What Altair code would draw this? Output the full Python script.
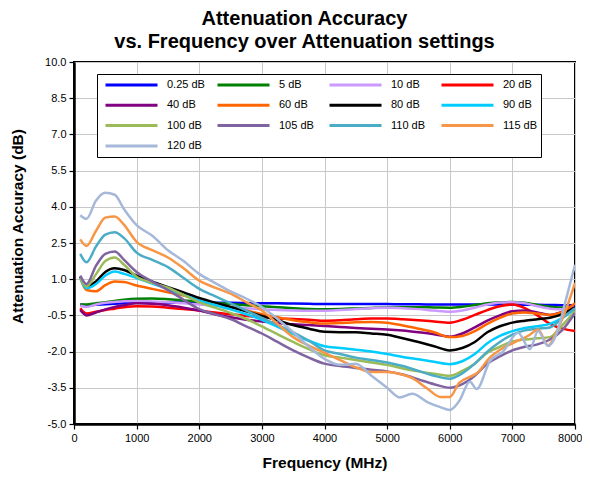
import altair as alt
import pandas as pd

SERIES = ["0.25 dB", "5 dB", "10 dB", "20 dB", "40 dB", "60 dB", "80 dB",
          "90 dB", "100 dB", "105 dB", "110 dB", "115 dB", "120 dB"]
COLORS = ["#0000ff", "#008000", "#cc99ff", "#ff0000", "#800080", "#ff6600",
          "#000000", "#00ccff", "#9bbb59", "#8064a2", "#4bacc6", "#f79646",
          "#a5b8d9"]

X_TICKS = [0, 1000, 2000, 3000, 4000, 5000, 6000, 7000, 8000]
Y_TICKS = [-5.0, -3.5, -2.0, -0.5, 1.0, 2.5, 4.0, 5.5, 7.0, 8.5, 10.0]

FREQ = [100, 200, 350, 500, 650, 800, 1000, 1250, 1500, 1750, 2000, 2250,
        2500, 2750, 3000, 3250, 3500, 3750, 4000, 4250, 4500, 4750, 5000,
        5250, 5500, 5750, 6000, 6200, 6400, 6600, 6800, 7000, 7200, 7400,
        7600, 7800, 8000]
FREQ_WAVY = [100, 200, 350, 500, 650, 800, 1000, 1250, 1500, 1750, 2000, 2250,
             2500, 2750, 3000, 3250, 3500, 3750, 4000, 4250, 4500, 4750, 5000,
             5200, 5400, 5650, 5850, 6000, 6150, 6320, 6430, 6640, 6850, 7090,
             7280, 7410, 7570, 7700, 7850, 8000]

ATT_0_25 = [-0.05, -0.08, -0.06, -0.04, -0.02, 0.0, 0.02, 0.03, 0.03, 0.03,
            0.03, 0.02, 0.02, 0.01, 0.0, 0.0, -0.01, -0.02, -0.03, -0.03,
            -0.03, -0.03, -0.03, -0.04, -0.04, -0.05, -0.05, -0.05, -0.05,
            -0.05, -0.05, -0.05, -0.06, -0.06, -0.07, -0.08, -0.08]
ATT_5 = [-0.05, -0.05, 0.0, 0.05, 0.1, 0.15, 0.19, 0.2, 0.17, 0.12, 0.07,
         0.02, -0.03, -0.08, -0.12, -0.16, -0.2, -0.23, -0.24, -0.23, -0.21,
         -0.19, -0.17, -0.16, -0.16, -0.17, -0.18, -0.14, -0.07, 0.0, 0.04,
         0.06, 0.02, -0.07, -0.14, -0.18, -0.2]
ATT_10 = [-0.1, -0.15, -0.05, 0.02, 0.06, 0.09, 0.1, 0.08, 0.05, 0.0, -0.05,
          -0.1, -0.15, -0.2, -0.25, -0.28, -0.3, -0.31, -0.31, -0.28, -0.24,
          -0.2, -0.18, -0.2, -0.24, -0.3, -0.35, -0.3, -0.18, -0.05, 0.03,
          0.05, 0.0, -0.12, -0.22, -0.25, -0.22]
ATT_20 = [-0.2, -0.42, -0.35, -0.28, -0.22, -0.16, -0.12, -0.13, -0.18, -0.24,
          -0.3, -0.38, -0.45, -0.52, -0.58, -0.63, -0.65, -0.68, -0.72, -0.7,
          -0.66, -0.63, -0.63, -0.66, -0.7, -0.75, -0.8, -0.68, -0.48, -0.28,
          -0.12, -0.05, -0.2, -0.5, -0.85, -1.05, -1.15]
ATT_40 = [-0.28, -0.5, -0.38, -0.25, -0.15, -0.08, 0.0, -0.02, -0.08, -0.18,
          -0.3, -0.45, -0.58, -0.68, -0.75, -0.82, -0.87, -0.9, -0.94, -0.98,
          -1.02, -1.05, -1.08, -1.13, -1.2, -1.28, -1.38, -1.25, -1.0, -0.72,
          -0.5, -0.33, -0.3, -0.38, -0.48, -0.35, -0.18]
ATT_60 = [1.05, 0.55, 0.5, 0.75, 0.9, 0.88, 0.74, 0.6, 0.46, 0.32, 0.15, 0.0,
          -0.15, -0.3, -0.45, -0.58, -0.7, -0.78, -0.84, -0.82, -0.78, -0.77,
          -0.8, -0.92, -1.05, -1.2, -1.4, -1.35, -1.15, -0.85, -0.6, -0.42,
          -0.38, -0.42, -0.48, -0.35, 0.0]
ATT_80 = [1.1, 0.7, 0.9, 1.3, 1.45, 1.38, 1.15, 0.9, 0.67, 0.45, 0.22, 0.03,
          -0.15, -0.33, -0.52, -0.7, -0.9, -1.05, -1.18, -1.2, -1.2, -1.25,
          -1.3, -1.45, -1.6, -1.78, -1.95, -1.85, -1.6, -1.2, -0.95, -0.8,
          -0.72, -0.66, -0.6, -0.45, -0.18]
ATT_90 = [1.05, 0.62, 0.8, 1.15, 1.32, 1.22, 1.05, 0.82, 0.6, 0.35, 0.11,
          -0.07, -0.25, -0.45, -0.68, -0.97, -1.27, -1.55, -1.78, -1.85,
          -1.92, -2.0, -2.1, -2.22, -2.32, -2.42, -2.52, -2.4, -2.1, -1.65,
          -1.35, -1.15, -1.02, -0.95, -0.85, -0.6, -0.22]
ATT_100 = [1.05, 0.7, 1.2, 1.75, 1.9, 1.6, 1.1, 0.85, 0.65, 0.35, 0.04, -0.18,
           -0.4, -0.65, -0.95, -1.28, -1.6, -1.9, -2.15, -2.25, -2.35, -2.45,
           -2.55, -2.7, -2.82, -2.92, -3.0, -2.8, -2.5, -2.05, -1.8, -1.58,
           -1.5, -1.45, -1.4, -0.9, -0.32]
ATT_105 = [1.15, 0.8, 1.55, 2.05, 2.15, 1.8, 1.3, 0.9, 0.55, 0.15, -0.24,
           -0.45, -0.65, -0.95, -1.25, -1.6, -1.95, -2.25, -2.5, -2.6, -2.68,
           -2.75, -2.82, -2.95, -3.15, -3.35, -3.5, -3.35, -3.0, -2.5, -2.2,
           -1.95, -1.8, -1.7, -1.5, -1.1, -0.4]
ATT_110 = [2.05, 1.7, 2.35, 2.85, 2.95, 2.7, 2.1, 1.8, 1.5, 1.05, 0.6, 0.3,
           0.0, -0.3, -0.6, -0.9, -1.2, -1.55, -1.95, -2.1, -2.25, -2.35,
           -2.45, -2.6, -2.8, -3.0, -3.12, -2.9, -2.5, -2.0, -1.6, -1.3,
           -1.12, -1.05, -1.0, -0.6, -0.2]
ATT_115 = [2.65, 2.38, 3.0, 3.55, 3.6, 3.25, 2.55, 2.2, 1.9, 1.45, 0.94, 0.65,
           0.4, 0.05, -0.3, -0.85, -1.4, -1.75, -2.05, -2.35, -2.65, -2.85,
           -2.85, -2.93, -3.1, -3.55, -3.88, -3.88, -3.3, -3.05, -2.9, -2.25,
           -1.85, -1.55, -1.3, -1.08, -1.75, -1.2, -0.3, 0.85]
ATT_120 = [3.65, 3.5, 4.25, 4.58, 4.5, 3.9, 3.24, 2.8, 2.2, 1.75, 1.22, 0.85,
           0.5, 0.2, -0.15, -0.65, -1.2, -1.8, -2.3, -2.55, -2.5, -3.0, -3.5,
           -3.9, -3.75, -4.1, -4.3, -4.42, -4.05, -3.25, -3.55, -2.4, -2.0,
           -1.22, -1.9, -1.15, -1.77, -1.3, 0.1, 1.6]

SERIES_DATA = [
    (FREQ, ATT_0_25), (FREQ, ATT_5), (FREQ, ATT_10), (FREQ, ATT_20),
    (FREQ, ATT_40), (FREQ, ATT_60), (FREQ, ATT_80), (FREQ, ATT_90),
    (FREQ, ATT_100), (FREQ, ATT_105), (FREQ, ATT_110),
    (FREQ_WAVY, ATT_115), (FREQ_WAVY, ATT_120),
]

rows = []
for name, (freqs, vals) in zip(SERIES, SERIES_DATA):
    for f, v in zip(freqs, vals):
        rows.append({"series": name, "freq": f, "acc": v})
df = pd.DataFrame(rows)

FONT = "Liberation Sans"

chart = alt.Chart(df).mark_line(
    strokeWidth=2.5, interpolate="monotone", clip=True
).encode(
    x=alt.X("freq:Q",
            scale=alt.Scale(domain=[0, 8000], nice=False),
            axis=alt.Axis(values=X_TICKS, format="d", title="Frequency (MHz)",
                          labelFlush=False,
                          labelAlign={"condition": {"test": "datum.value >= 8000",
                                                    "value": "right"},
                                      "value": "center"},
                          labelOffset={"condition": {"test": "datum.value >= 8000",
                                                     "value": 7},
                                       "value": 0},
                          titleY=38, titleBaseline="middle")),
    y=alt.Y("acc:Q",
            scale=alt.Scale(domain=[-5, 10], nice=False, zero=False),
            axis=alt.Axis(values=Y_TICKS,
                          labelExpr="replace(format(datum.value, '.1f'), '\u2212', '-')",
                          labelFlush=False,
                          title="Attenuation Accuracy (dB)",
                          titleX=-57, titleY=164, titleBaseline="middle")),
    color=alt.Color("series:N",
                    scale=alt.Scale(domain=SERIES, range=COLORS),
                    legend=alt.Legend(
                        title=None, orient="none", legendX=23, legendY=12,
                        direction="horizontal",
                        columns=4, symbolType="stroke", symbolSize=2704,
                        symbolStrokeWidth=3, clipHeight=16, rowPadding=4.3,
                        columnPadding=7, labelOffset=8, symbolOffset=4,
                        padding=3, strokeColor="black", fillColor="white",
                        labelFont=FONT, labelFontSize=11, labelColor="black",
                        gridAlign="all", labelLimit=120)),
).properties(
    width=501,
    height=362,
    autosize="none",
    padding={"left": 66, "top": 54, "right": 7, "bottom": 47},
    title=alt.Title(["Attenuation Accuracy",
                     "vs. Frequency over Attenuation settings"],
                    font=FONT, fontSize=20, fontWeight="bold", color="black",
                    anchor="middle", dx=-20, offset=4, lineHeight=23),
).configure_view(
    stroke="black", strokeWidth=2
).configure_axis(
    domainColor="black", domainWidth=2.5, tickColor="black", tickSize=5,
    tickWidth=1.2, gridColor="#c8c8c8", gridWidth=1,
    labelFont=FONT, labelFontSize=11, labelColor="black", labelPadding=3,
    titleFont=FONT, titleFontSize=15.5, titleFontWeight="bold", titleColor="black",
)

chart.save("out.html", embed_options={"renderer": "svg", "actions": False})
